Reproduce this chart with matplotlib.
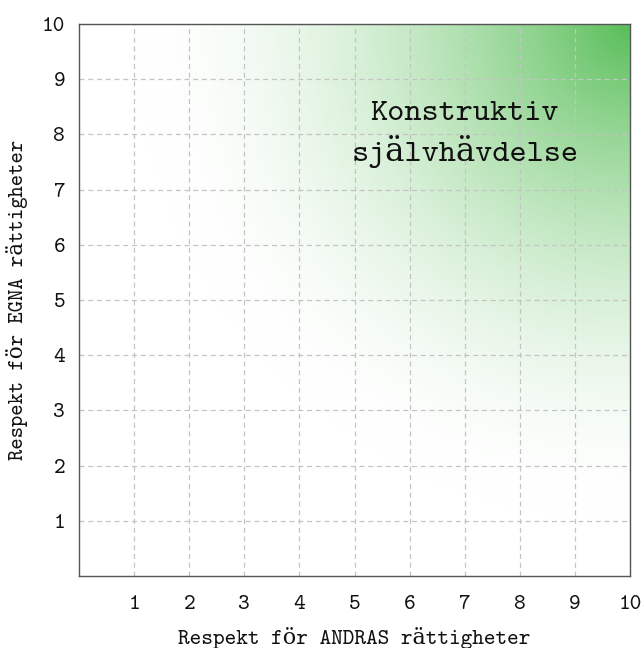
import numpy as np
import matplotlib
matplotlib.use("Agg")
import matplotlib.pyplot as plt

# Data / labels
x_ticks = [1, 2, 3, 4, 5, 6, 7, 8, 9, 10]
y_ticks = [1, 2, 3, 4, 5, 6, 7, 8, 9, 10]
x_label = "Respekt för ANDRAS rättigheter"
y_label = "Respekt för EGNA rättigheter"
zone_label = "Konstruktiv\nsjälvhävdelse"
zone_pos = (7.0, 8.0)

FONT = ["cmtt10", "DejaVu Serif", "DejaVu Sans Mono"]

fig = plt.figure(figsize=(6.44, 6.48), dpi=100)
ax = fig.add_axes([0.1227, 0.1111, 0.8556, 0.8519])

# background radial gradient from top-right corner
n = 400
gx, gy = np.meshgrid(np.linspace(0, 10, n), np.linspace(0, 10, n))
r = np.hypot(10 - gx, 10 - gy)
t = np.clip(1 - r / 9.0, 0, 1) ** 1.8
base = np.array([88, 190, 88]) / 255.0
img = np.ones((n, n, 4))
for c in range(3):
    img[..., c] = 1 - t * (1 - base[c])
ax.imshow(img, extent=[0, 10, 0, 10], origin="lower", aspect="auto", zorder=0,
          interpolation="bilinear")

ax.set_xlim(0, 10)
ax.set_ylim(0, 10)
ax.set_xticks(x_ticks)
ax.set_yticks(y_ticks)
ax.set_xticklabels([str(v) for v in x_ticks], family=FONT, fontsize=16)
ax.set_yticklabels([str(v) for v in y_ticks], family=FONT, fontsize=16)
ax.tick_params(axis="both", length=0, colors="#111111")
ax.tick_params(axis="x", pad=14)
ax.tick_params(axis="y", pad=10)

ax.grid(True, color="#c4c4c4", linestyle=(0, (4, 3)), linewidth=0.9, zorder=1)
ax.set_axisbelow(False)
for s in ax.spines.values():
    s.set_color("#555555")
    s.set_linewidth(1.0)
    s.set_zorder(3)

ax.set_xlabel(x_label, family=FONT, fontsize=16, color="#111111", labelpad=9)
ax.set_ylabel(y_label, family=FONT, fontsize=15.5, color="#111111", labelpad=10)

ax.text(zone_pos[0], zone_pos[1], zone_label, family=FONT, fontsize=23.5,
        ha="center", va="center", color="#111111", linespacing=1.32, zorder=4)

fig.savefig("out.png", dpi=100)
